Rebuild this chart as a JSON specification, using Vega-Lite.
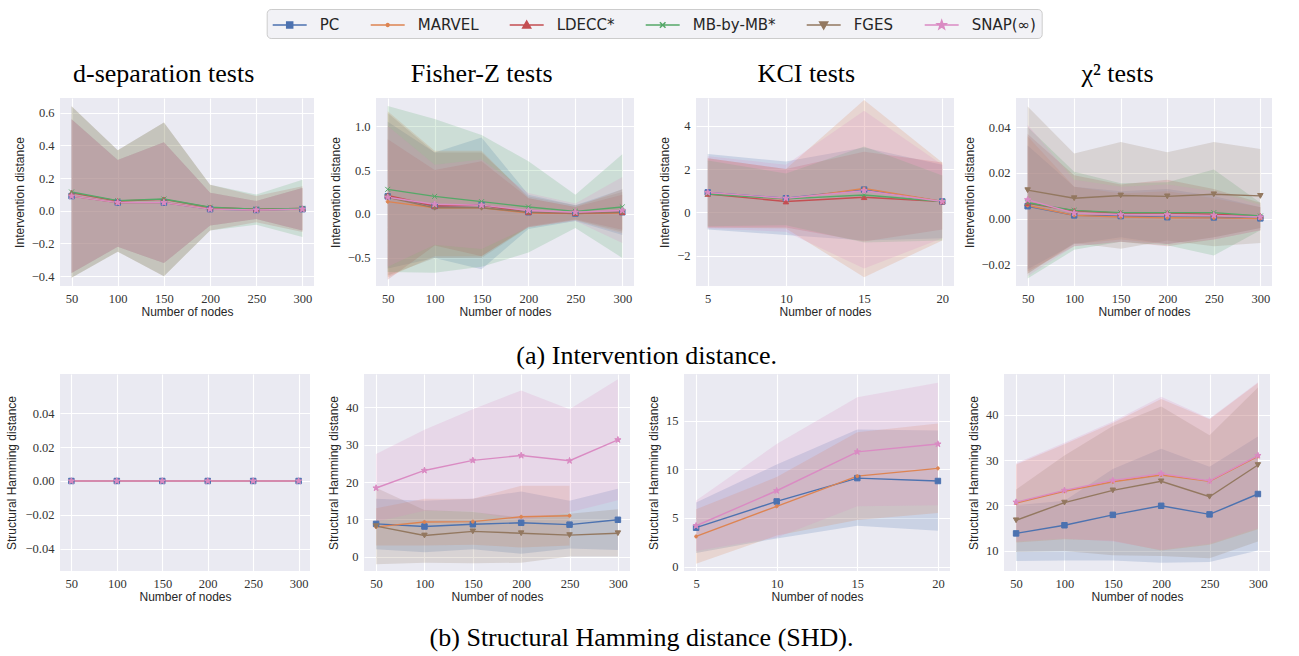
{
  "$schema": "https://vega.github.io/schema/vega-lite/v6.json",
  "padding": {"left": 5, "top": 8, "right": 5, "bottom": 5},
  "background": "white",
  "datasets": {
    "d": [
      {"p":"a1","m":"PC","n":50,"y":0.09,"lo":-0.38,"hi":0.56},{"p":"a1","m":"PC","n":100,"y":0.05,"lo":-0.22,"hi":0.31},{"p":"a1","m":"PC","n":150,"y":0.05,"lo":-0.32,"hi":0.42},{"p":"a1","m":"PC","n":200,"y":0.01,"lo":-0.09,"hi":0.11},{"p":"a1","m":"PC","n":250,"y":0.005,"lo":-0.05,"hi":0.06},{"p":"a1","m":"PC","n":300,"y":0.01,"lo":-0.12,"hi":0.14},
      {"p":"a1","m":"MARVEL","n":50,"y":0.09,"lo":-0.38,"hi":0.56},{"p":"a1","m":"MARVEL","n":100,"y":0.05,"lo":-0.22,"hi":0.31},{"p":"a1","m":"MARVEL","n":150,"y":0.05,"lo":-0.32,"hi":0.42},{"p":"a1","m":"MARVEL","n":200,"y":0.012,"lo":-0.09,"hi":0.11},{"p":"a1","m":"MARVEL","n":250,"y":0.006,"lo":-0.05,"hi":0.06},{"p":"a1","m":"MARVEL","n":300,"y":0.01,"lo":-0.12,"hi":0.14},
      {"p":"a1","m":"LDECC*","n":50,"y":0.11,"lo":-0.41,"hi":0.64},{"p":"a1","m":"LDECC*","n":100,"y":0.06,"lo":-0.25,"hi":0.37},{"p":"a1","m":"LDECC*","n":150,"y":0.07,"lo":-0.40,"hi":0.54},{"p":"a1","m":"LDECC*","n":200,"y":0.02,"lo":-0.12,"hi":0.16},{"p":"a1","m":"LDECC*","n":250,"y":0.01,"lo":-0.07,"hi":0.09},{"p":"a1","m":"LDECC*","n":300,"y":0.015,"lo":-0.13,"hi":0.15},
      {"p":"a1","m":"MB-by-MB*","n":50,"y":0.115,"lo":-0.41,"hi":0.64},{"p":"a1","m":"MB-by-MB*","n":100,"y":0.062,"lo":-0.25,"hi":0.37},{"p":"a1","m":"MB-by-MB*","n":150,"y":0.072,"lo":-0.40,"hi":0.54},{"p":"a1","m":"MB-by-MB*","n":200,"y":0.022,"lo":-0.12,"hi":0.16},{"p":"a1","m":"MB-by-MB*","n":250,"y":0.01,"lo":-0.085,"hi":0.10},{"p":"a1","m":"MB-by-MB*","n":300,"y":0.015,"lo":-0.16,"hi":0.19},
      {"p":"a1","m":"SNAP(∞)","n":50,"y":0.09,"lo":-0.38,"hi":0.56},{"p":"a1","m":"SNAP(∞)","n":100,"y":0.05,"lo":-0.22,"hi":0.31},{"p":"a1","m":"SNAP(∞)","n":150,"y":0.05,"lo":-0.32,"hi":0.42},{"p":"a1","m":"SNAP(∞)","n":200,"y":0.01,"lo":-0.09,"hi":0.11},{"p":"a1","m":"SNAP(∞)","n":250,"y":0.005,"lo":-0.05,"hi":0.06},{"p":"a1","m":"SNAP(∞)","n":300,"y":0.01,"lo":-0.12,"hi":0.14},

      {"p":"a2","m":"PC","n":50,"y":0.20,"lo":-0.62,"hi":1.05},{"p":"a2","m":"PC","n":100,"y":0.09,"lo":-0.50,"hi":0.70},{"p":"a2","m":"PC","n":150,"y":0.10,"lo":-0.63,"hi":0.87},{"p":"a2","m":"PC","n":200,"y":0.02,"lo":-0.17,"hi":0.22},{"p":"a2","m":"PC","n":250,"y":0.005,"lo":-0.08,"hi":0.10},{"p":"a2","m":"PC","n":300,"y":0.02,"lo":-0.24,"hi":0.28},
      {"p":"a2","m":"MARVEL","n":50,"y":0.14,"lo":-0.72,"hi":1.17},{"p":"a2","m":"MARVEL","n":100,"y":0.07,"lo":-0.48,"hi":0.72},{"p":"a2","m":"MARVEL","n":150,"y":0.07,"lo":-0.48,"hi":0.72},{"p":"a2","m":"MARVEL","n":200,"y":0.01,"lo":-0.15,"hi":0.18},{"p":"a2","m":"MARVEL","n":250,"y":0.005,"lo":-0.07,"hi":0.08},{"p":"a2","m":"MARVEL","n":300,"y":0.01,"lo":-0.22,"hi":0.28},
      {"p":"a2","m":"LDECC*","n":50,"y":0.21,"lo":-0.75,"hi":0.85},{"p":"a2","m":"LDECC*","n":100,"y":0.09,"lo":-0.36,"hi":0.50},{"p":"a2","m":"LDECC*","n":150,"y":0.10,"lo":-0.48,"hi":0.60},{"p":"a2","m":"LDECC*","n":200,"y":0.02,"lo":-0.14,"hi":0.18},{"p":"a2","m":"LDECC*","n":250,"y":0.01,"lo":-0.06,"hi":0.08},{"p":"a2","m":"LDECC*","n":300,"y":0.02,"lo":-0.18,"hi":0.22},
      {"p":"a2","m":"MB-by-MB*","n":50,"y":0.28,"lo":-0.66,"hi":1.23},{"p":"a2","m":"MB-by-MB*","n":100,"y":0.20,"lo":-0.67,"hi":1.08},{"p":"a2","m":"MB-by-MB*","n":150,"y":0.14,"lo":-0.60,"hi":0.90},{"p":"a2","m":"MB-by-MB*","n":200,"y":0.08,"lo":-0.44,"hi":0.60},{"p":"a2","m":"MB-by-MB*","n":250,"y":0.03,"lo":-0.16,"hi":0.22},{"p":"a2","m":"MB-by-MB*","n":300,"y":0.08,"lo":-0.50,"hi":0.68},
      {"p":"a2","m":"FGES","n":50,"y":0.19,"lo":-0.70,"hi":1.15},{"p":"a2","m":"FGES","n":100,"y":0.07,"lo":-0.50,"hi":0.70},{"p":"a2","m":"FGES","n":150,"y":0.07,"lo":-0.50,"hi":0.70},{"p":"a2","m":"FGES","n":200,"y":0.02,"lo":-0.15,"hi":0.20},{"p":"a2","m":"FGES","n":250,"y":0.01,"lo":-0.07,"hi":0.10},{"p":"a2","m":"FGES","n":300,"y":0.02,"lo":-0.20,"hi":0.25},
      {"p":"a2","m":"SNAP(∞)","n":50,"y":0.19,"lo":-0.60,"hi":1.00},{"p":"a2","m":"SNAP(∞)","n":100,"y":0.11,"lo":-0.35,"hi":0.56},{"p":"a2","m":"SNAP(∞)","n":150,"y":0.10,"lo":-0.40,"hi":0.62},{"p":"a2","m":"SNAP(∞)","n":200,"y":0.04,"lo":-0.15,"hi":0.24},{"p":"a2","m":"SNAP(∞)","n":250,"y":0.02,"lo":-0.08,"hi":0.12},{"p":"a2","m":"SNAP(∞)","n":300,"y":0.04,"lo":-0.33,"hi":0.42},

      {"p":"a3","m":"PC","n":5,"y":0.92,"lo":-0.8,"hi":2.7},{"p":"a3","m":"PC","n":10,"y":0.65,"lo":-1.05,"hi":2.35},{"p":"a3","m":"PC","n":15,"y":1.05,"lo":-1.3,"hi":3.0},{"p":"a3","m":"PC","n":20,"y":0.5,"lo":-1.2,"hi":2.2},
      {"p":"a3","m":"MARVEL","n":5,"y":0.9,"lo":-0.7,"hi":2.5},{"p":"a3","m":"MARVEL","n":10,"y":0.6,"lo":-0.75,"hi":2.0},{"p":"a3","m":"MARVEL","n":15,"y":1.1,"lo":-3.0,"hi":5.2},{"p":"a3","m":"MARVEL","n":20,"y":0.5,"lo":-1.3,"hi":2.3},
      {"p":"a3","m":"LDECC*","n":5,"y":0.85,"lo":-0.7,"hi":2.5},{"p":"a3","m":"LDECC*","n":10,"y":0.5,"lo":-0.7,"hi":2.0},{"p":"a3","m":"LDECC*","n":15,"y":0.7,"lo":-1.35,"hi":2.8},{"p":"a3","m":"LDECC*","n":20,"y":0.5,"lo":-0.8,"hi":2.3},
      {"p":"a3","m":"MB-by-MB*","n":5,"y":0.85,"lo":-0.65,"hi":2.4},{"p":"a3","m":"MB-by-MB*","n":10,"y":0.62,"lo":-0.6,"hi":1.8},{"p":"a3","m":"MB-by-MB*","n":15,"y":0.8,"lo":-1.4,"hi":3.05},{"p":"a3","m":"MB-by-MB*","n":20,"y":0.5,"lo":-1.3,"hi":1.7},
      {"p":"a3","m":"SNAP(∞)","n":5,"y":0.92,"lo":-0.75,"hi":2.6},{"p":"a3","m":"SNAP(∞)","n":10,"y":0.65,"lo":-0.9,"hi":2.2},{"p":"a3","m":"SNAP(∞)","n":15,"y":1.0,"lo":-2.6,"hi":4.7},{"p":"a3","m":"SNAP(∞)","n":20,"y":0.5,"lo":-1.2,"hi":2.2},

      {"p":"a4","m":"PC","n":50,"y":0.0055,"lo":-0.022,"hi":0.032},{"p":"a4","m":"PC","n":100,"y":0.0015,"lo":-0.011,"hi":0.014},{"p":"a4","m":"PC","n":150,"y":0.0012,"lo":-0.008,"hi":0.012},{"p":"a4","m":"PC","n":200,"y":0.0007,"lo":-0.011,"hi":0.013},{"p":"a4","m":"PC","n":250,"y":0.0006,"lo":-0.008,"hi":0.010},{"p":"a4","m":"PC","n":300,"y":0.0002,"lo":-0.004,"hi":0.005},
      {"p":"a4","m":"MARVEL","n":50,"y":0.0058,"lo":-0.024,"hi":0.036},{"p":"a4","m":"MARVEL","n":100,"y":0.0015,"lo":-0.011,"hi":0.014},{"p":"a4","m":"MARVEL","n":150,"y":0.0008,"lo":-0.009,"hi":0.011},{"p":"a4","m":"MARVEL","n":200,"y":0.0005,"lo":-0.011,"hi":0.012},{"p":"a4","m":"MARVEL","n":250,"y":0.0004,"lo":-0.008,"hi":0.009},{"p":"a4","m":"MARVEL","n":300,"y":0.0001,"lo":-0.004,"hi":0.005},
      {"p":"a4","m":"LDECC*","n":50,"y":0.0068,"lo":-0.023,"hi":0.037},{"p":"a4","m":"LDECC*","n":100,"y":0.0035,"lo":-0.012,"hi":0.019},{"p":"a4","m":"LDECC*","n":150,"y":0.0025,"lo":-0.010,"hi":0.015},{"p":"a4","m":"LDECC*","n":200,"y":0.0025,"lo":-0.012,"hi":0.017},{"p":"a4","m":"LDECC*","n":250,"y":0.002,"lo":-0.009,"hi":0.013},{"p":"a4","m":"LDECC*","n":300,"y":0.0013,"lo":-0.005,"hi":0.007},
      {"p":"a4","m":"MB-by-MB*","n":50,"y":0.007,"lo":-0.026,"hi":0.040},{"p":"a4","m":"MB-by-MB*","n":100,"y":0.0037,"lo":-0.0135,"hi":0.0205},{"p":"a4","m":"MB-by-MB*","n":150,"y":0.0027,"lo":-0.010,"hi":0.0155},{"p":"a4","m":"MB-by-MB*","n":200,"y":0.0027,"lo":-0.0115,"hi":0.016},{"p":"a4","m":"MB-by-MB*","n":250,"y":0.0027,"lo":-0.016,"hi":0.0215},{"p":"a4","m":"MB-by-MB*","n":300,"y":0.0012,"lo":-0.005,"hi":0.007},
      {"p":"a4","m":"FGES","n":50,"y":0.0125,"lo":-0.024,"hi":0.049},{"p":"a4","m":"FGES","n":100,"y":0.009,"lo":-0.0105,"hi":0.0285},{"p":"a4","m":"FGES","n":150,"y":0.0102,"lo":-0.013,"hi":0.0335},{"p":"a4","m":"FGES","n":200,"y":0.0098,"lo":-0.0095,"hi":0.029},{"p":"a4","m":"FGES","n":250,"y":0.0107,"lo":-0.012,"hi":0.0335},{"p":"a4","m":"FGES","n":300,"y":0.010,"lo":-0.0105,"hi":0.0305},
      {"p":"a4","m":"SNAP(∞)","n":50,"y":0.0083,"lo":-0.025,"hi":0.041},{"p":"a4","m":"SNAP(∞)","n":100,"y":0.0025,"lo":-0.012,"hi":0.017},{"p":"a4","m":"SNAP(∞)","n":150,"y":0.0018,"lo":-0.010,"hi":0.014},{"p":"a4","m":"SNAP(∞)","n":200,"y":0.0018,"lo":-0.011,"hi":0.015},{"p":"a4","m":"SNAP(∞)","n":250,"y":0.0015,"lo":-0.009,"hi":0.012},{"p":"a4","m":"SNAP(∞)","n":300,"y":0.0008,"lo":-0.005,"hi":0.006},

      {"p":"b1","m":"PC","n":50,"y":0,"lo":0,"hi":0},{"p":"b1","m":"PC","n":100,"y":0,"lo":0,"hi":0},{"p":"b1","m":"PC","n":150,"y":0,"lo":0,"hi":0},{"p":"b1","m":"PC","n":200,"y":0,"lo":0,"hi":0},{"p":"b1","m":"PC","n":250,"y":0,"lo":0,"hi":0},{"p":"b1","m":"PC","n":300,"y":0,"lo":0,"hi":0},
      {"p":"b1","m":"MARVEL","n":50,"y":0,"lo":0,"hi":0},{"p":"b1","m":"MARVEL","n":100,"y":0,"lo":0,"hi":0},{"p":"b1","m":"MARVEL","n":150,"y":0,"lo":0,"hi":0},{"p":"b1","m":"MARVEL","n":200,"y":0,"lo":0,"hi":0},{"p":"b1","m":"MARVEL","n":250,"y":0,"lo":0,"hi":0},{"p":"b1","m":"MARVEL","n":300,"y":0,"lo":0,"hi":0},
      {"p":"b1","m":"SNAP(∞)","n":50,"y":0,"lo":0,"hi":0},{"p":"b1","m":"SNAP(∞)","n":100,"y":0,"lo":0,"hi":0},{"p":"b1","m":"SNAP(∞)","n":150,"y":0,"lo":0,"hi":0},{"p":"b1","m":"SNAP(∞)","n":200,"y":0,"lo":0,"hi":0},{"p":"b1","m":"SNAP(∞)","n":250,"y":0,"lo":0,"hi":0},{"p":"b1","m":"SNAP(∞)","n":300,"y":0,"lo":0,"hi":0},

      {"p":"b2","m":"PC","n":50,"y":8.8,"lo":2.0,"hi":15.5},{"p":"b2","m":"PC","n":100,"y":8.1,"lo":1.2,"hi":15.0},{"p":"b2","m":"PC","n":150,"y":8.7,"lo":2.0,"hi":15.5},{"p":"b2","m":"PC","n":200,"y":9.1,"lo":0.8,"hi":17.5},{"p":"b2","m":"PC","n":250,"y":8.6,"lo":2.2,"hi":15.0},{"p":"b2","m":"PC","n":300,"y":9.9,"lo":1.8,"hi":18.2},
      {"p":"b2","m":"MARVEL","n":50,"y":8.0,"lo":3.0,"hi":13.0},{"p":"b2","m":"MARVEL","n":100,"y":9.3,"lo":3.0,"hi":15.5},{"p":"b2","m":"MARVEL","n":150,"y":9.4,"lo":3.2,"hi":15.5},{"p":"b2","m":"MARVEL","n":200,"y":10.7,"lo":2.5,"hi":19.0},{"p":"b2","m":"MARVEL","n":250,"y":11.0,"lo":3.0,"hi":19.0},
      {"p":"b2","m":"FGES","n":50,"y":8.2,"lo":-2.0,"hi":18.5},{"p":"b2","m":"FGES","n":100,"y":5.7,"lo":-1.6,"hi":12.5},{"p":"b2","m":"FGES","n":150,"y":6.8,"lo":-1.7,"hi":12.0},{"p":"b2","m":"FGES","n":200,"y":6.3,"lo":-1.6,"hi":10.5},{"p":"b2","m":"FGES","n":250,"y":5.8,"lo":0.1,"hi":11.5},{"p":"b2","m":"FGES","n":300,"y":6.3,"lo":0.1,"hi":12.7},
      {"p":"b2","m":"SNAP(∞)","n":50,"y":18.4,"lo":9.4,"hi":27.5},{"p":"b2","m":"SNAP(∞)","n":100,"y":23.1,"lo":12.3,"hi":34.0},{"p":"b2","m":"SNAP(∞)","n":150,"y":25.8,"lo":12.1,"hi":39.5},{"p":"b2","m":"SNAP(∞)","n":200,"y":27.1,"lo":9.7,"hi":44.5},{"p":"b2","m":"SNAP(∞)","n":250,"y":25.7,"lo":11.9,"hi":39.5},{"p":"b2","m":"SNAP(∞)","n":300,"y":31.3,"lo":15.1,"hi":47.5},

      {"p":"b3","m":"PC","n":5,"y":4.0,"lo":1.4,"hi":6.6},{"p":"b3","m":"PC","n":10,"y":6.7,"lo":2.9,"hi":10.5},{"p":"b3","m":"PC","n":15,"y":9.1,"lo":4.2,"hi":14.1},{"p":"b3","m":"PC","n":20,"y":8.8,"lo":3.7,"hi":14.0},
      {"p":"b3","m":"MARVEL","n":5,"y":3.1,"lo":0.3,"hi":5.9},{"p":"b3","m":"MARVEL","n":10,"y":6.2,"lo":3.2,"hi":9.2},{"p":"b3","m":"MARVEL","n":15,"y":9.3,"lo":4.8,"hi":13.8},{"p":"b3","m":"MARVEL","n":20,"y":10.1,"lo":5.5,"hi":14.7},
      {"p":"b3","m":"SNAP(∞)","n":5,"y":4.2,"lo":1.6,"hi":6.8},{"p":"b3","m":"SNAP(∞)","n":10,"y":7.8,"lo":3.0,"hi":12.6},{"p":"b3","m":"SNAP(∞)","n":15,"y":11.8,"lo":6.2,"hi":17.4},{"p":"b3","m":"SNAP(∞)","n":20,"y":12.6,"lo":6.3,"hi":18.9},

      {"p":"b4","m":"PC","n":50,"y":13.8,"lo":7.7,"hi":20.0},{"p":"b4","m":"PC","n":100,"y":15.6,"lo":7.8,"hi":21.0},{"p":"b4","m":"PC","n":150,"y":17.9,"lo":7.8,"hi":28.0},{"p":"b4","m":"PC","n":200,"y":19.9,"lo":7.3,"hi":32.5},{"p":"b4","m":"PC","n":250,"y":18.0,"lo":7.5,"hi":28.5},{"p":"b4","m":"PC","n":300,"y":22.5,"lo":10.0,"hi":35.2},
      {"p":"b4","m":"MARVEL","n":50,"y":20.5,"lo":11.8,"hi":29.0},{"p":"b4","m":"MARVEL","n":100,"y":23.1,"lo":12.5,"hi":33.5},{"p":"b4","m":"MARVEL","n":150,"y":25.2,"lo":12.2,"hi":38.2},{"p":"b4","m":"MARVEL","n":200,"y":26.7,"lo":10.0,"hi":43.5},{"p":"b4","m":"MARVEL","n":250,"y":25.3,"lo":11.3,"hi":39.0},{"p":"b4","m":"MARVEL","n":300,"y":30.8,"lo":14.7,"hi":47.0},
      {"p":"b4","m":"FGES","n":50,"y":16.7,"lo":9.7,"hi":23.5},{"p":"b4","m":"FGES","n":100,"y":20.6,"lo":9.9,"hi":31.0},{"p":"b4","m":"FGES","n":150,"y":23.3,"lo":9.0,"hi":37.5},{"p":"b4","m":"FGES","n":200,"y":25.3,"lo":8.8,"hi":41.8},{"p":"b4","m":"FGES","n":250,"y":21.9,"lo":8.3,"hi":35.5},{"p":"b4","m":"FGES","n":300,"y":28.9,"lo":12.0,"hi":46.0},
      {"p":"b4","m":"SNAP(∞)","n":50,"y":20.7,"lo":12.0,"hi":29.3},{"p":"b4","m":"SNAP(∞)","n":100,"y":23.3,"lo":12.7,"hi":33.8},{"p":"b4","m":"SNAP(∞)","n":150,"y":25.5,"lo":12.0,"hi":38.5},{"p":"b4","m":"SNAP(∞)","n":200,"y":27.0,"lo":10.2,"hi":44.0},{"p":"b4","m":"SNAP(∞)","n":250,"y":25.4,"lo":11.5,"hi":39.2},{"p":"b4","m":"SNAP(∞)","n":300,"y":31.0,"lo":15.0,"hi":47.2}
    ]
  },
  "data": {"name": "d"},
  "spacing": 5,
  "vconcat": [
    {
      "spacing": 62,
      "bounds": "flush",
      "title": {"text": "(a) Intervention distance.", "orient": "bottom", "anchor": "middle", "frame": "bounds", "offset": 25, "dx": 4},
      "hconcat": [
        {
          "width": 254, "height": 188,
          "title": {"text": "d-separation tests", "frame": "bounds", "offset": 11},
          "transform": [{"filter": "datum.p === 'a1'"}],
          "encoding": {
            "x": {"field": "n", "type": "quantitative", "title": "Number of nodes", "scale": {"domain": [37.5, 312.5], "nice": false, "zero": false}, "axis": {"values": [50, 100, 150, 200, 250, 300]}},
            "color": {"field": "m", "type": "nominal",
              "scale": {"domain": ["PC", "MARVEL", "LDECC*", "MB-by-MB*", "FGES", "SNAP(∞)"], "range": ["#4C72B0", "#DD8452", "#C44E52", "#55A868", "#937860", "#DA8BC3"]},
              "legend": {"orient": "none", "legendX": 206.7, "legendY": -89, "direction": "horizontal", "columns": 6, "title": null,
                "encode": {"symbols": {"update": {
                  "shape": {"signal": "datum.value === 'PC' ? 'M-1.7,0H1.7M-0.3,-0.3H0.3V0.3H-0.3Z' : datum.value === 'MARVEL' ? 'M-1.7,0H1.7M-0.15,0A0.15,0.15,0,1,1,0.15,0A0.15,0.15,0,1,1,-0.15,0Z' : datum.value === 'LDECC*' ? 'M-1.7,0H1.7M0,-0.4L0.4,0.3L-0.4,0.3Z' : datum.value === 'MB-by-MB*' ? 'M-1.7,0H1.7M-0.28,-0.28L0.28,0.28M-0.28,0.28L0.28,-0.28' : datum.value === 'FGES' ? 'M-1.7,0H1.7M0,0.4L0.4,-0.3L-0.4,-0.3Z' : 'M-1.7,0H1.7M0,-0.45L0.106,-0.146L0.428,-0.139L0.171,0.056L0.265,0.364L0,0.18L-0.265,0.364L-0.171,0.056L-0.428,-0.139L-0.106,-0.146Z'"},
                  "fill": {"scale": "color", "field": "value"},
                  "stroke": {"scale": "color", "field": "value"},
                  "strokeWidth": {"value": 1.5},
                  "opacity": {"value": 1},
                  "fillOpacity": {"value": 1},
                  "size": {"value": 400}
                }}}
              }
            }
          },
          "layer": [
            {"mark": {"type": "area", "opacity": 0.2, "clip": true}, "encoding": {"y": {"field": "lo", "type": "quantitative", "title": "Intervention distance", "scale": {"domain": [-0.46, 0.69], "nice": false, "zero": false}, "axis": {"values": [-0.4, -0.2, 0, 0.2, 0.4, 0.6], "format": ".1f", "tickCount": 20}}, "y2": {"field": "hi"}}},
            {"mark": {"type": "line", "strokeWidth": 1.4, "clip": true}, "encoding": {"y": {"field": "y", "type": "quantitative", "title": "Intervention distance"}}},
            {"mark": {"type": "point", "filled": true, "size": 30, "opacity": 1, "strokeWidth": 1, "clip": true}, "encoding": {"y": {"field": "y", "type": "quantitative", "title": "Intervention distance"},
              "shape": {"field": "m", "type": "nominal", "legend": null, "scale": {"domain": ["SNAP(∞)", "FGES", "MB-by-MB*", "LDECC*", "MARVEL", "PC"], "range": ["M0,-1.2L0.282,-0.389L1.141,-0.371L0.456,0.149L0.706,0.971L0,0.48L-0.706,0.971L-0.456,0.149L-1.141,-0.371L-0.282,-0.389Z", "triangle-down", "M-0.9,-0.9L0.9,0.9M-0.9,0.9L0.9,-0.9", "triangle-up", "M-0.55,0A0.55,0.55,0,1,1,0.55,0A0.55,0.55,0,1,1,-0.55,0Z", "square"]}},
              "stroke": {"field": "m", "type": "nominal", "legend": null, "scale": {"domain": ["MARVEL", "PC", "LDECC*", "MB-by-MB*", "FGES", "SNAP(∞)"], "range": ["#DD8452", "#4C72B0", "#C44E52", "#55A868", "#937860", "#DA8BC3"]}}}}
          ]
        },
        {
          "width": 258, "height": 188,
          "title": {"text": "Fisher-Z tests", "frame": "bounds", "offset": 11},
          "transform": [{"filter": "datum.p === 'a2'"}],
          "encoding": {
            "x": {"field": "n", "type": "quantitative", "title": "Number of nodes", "scale": {"domain": [37.5, 312.5], "nice": false, "zero": false}, "axis": {"values": [50, 100, 150, 200, 250, 300]}},
            "color": {"field": "m", "type": "nominal"}
          },
          "layer": [
            {"mark": {"type": "area", "opacity": 0.2, "clip": true}, "encoding": {"y": {"field": "lo", "type": "quantitative", "title": "Intervention distance", "scale": {"domain": [-0.82, 1.32], "nice": false, "zero": false}, "axis": {"values": [-0.5, 0, 0.5, 1.0], "format": ".1f", "tickCount": 20}}, "y2": {"field": "hi"}}},
            {"mark": {"type": "line", "strokeWidth": 1.4, "clip": true}, "encoding": {"y": {"field": "y", "type": "quantitative", "title": "Intervention distance"}}},
            {"mark": {"type": "point", "filled": true, "size": 30, "opacity": 1, "strokeWidth": 1, "clip": true}, "encoding": {"y": {"field": "y", "type": "quantitative", "title": "Intervention distance"}, "shape": {"field": "m", "type": "nominal", "legend": null}, "stroke": {"field": "m", "type": "nominal", "legend": null}}}
          ]
        },
        {
          "width": 258, "height": 188,
          "title": {"text": "KCI tests", "frame": "bounds", "offset": 11},
          "transform": [{"filter": "datum.p === 'a3'"}],
          "encoding": {
            "x": {"field": "n", "type": "quantitative", "title": "Number of nodes", "scale": {"domain": [4.25, 20.75], "nice": false, "zero": false}, "axis": {"values": [5, 10, 15, 20]}},
            "color": {"field": "m", "type": "nominal"}
          },
          "layer": [
            {"mark": {"type": "area", "opacity": 0.2, "clip": true}, "encoding": {"y": {"field": "lo", "type": "quantitative", "title": "Intervention distance", "scale": {"domain": [-3.41, 5.29], "nice": false, "zero": false}, "axis": {"values": [-2, 0, 2, 4], "format": "d", "tickCount": 20}}, "y2": {"field": "hi"}}},
            {"mark": {"type": "line", "strokeWidth": 1.4, "clip": true}, "encoding": {"y": {"field": "y", "type": "quantitative", "title": "Intervention distance"}}},
            {"mark": {"type": "point", "filled": true, "size": 30, "opacity": 1, "strokeWidth": 1, "clip": true}, "encoding": {"y": {"field": "y", "type": "quantitative", "title": "Intervention distance"}, "shape": {"field": "m", "type": "nominal", "legend": null}, "stroke": {"field": "m", "type": "nominal", "legend": null}}}
          ]
        },
        {
          "width": 256, "height": 188,
          "title": {"text": "χ² tests", "frame": "bounds", "offset": 11},
          "transform": [{"filter": "datum.p === 'a4'"}],
          "encoding": {
            "x": {"field": "n", "type": "quantitative", "title": "Number of nodes", "scale": {"domain": [37.5, 312.5], "nice": false, "zero": false}, "axis": {"values": [50, 100, 150, 200, 250, 300]}},
            "color": {"field": "m", "type": "nominal"}
          },
          "layer": [
            {"mark": {"type": "area", "opacity": 0.2, "clip": true}, "encoding": {"y": {"field": "lo", "type": "quantitative", "title": "Intervention distance", "scale": {"domain": [-0.0293, 0.0527], "nice": false, "zero": false}, "axis": {"values": [-0.02, 0, 0.02, 0.04], "format": ".2f", "tickCount": 20}}, "y2": {"field": "hi"}}},
            {"mark": {"type": "line", "strokeWidth": 1.4, "clip": true}, "encoding": {"y": {"field": "y", "type": "quantitative", "title": "Intervention distance"}}},
            {"mark": {"type": "point", "filled": true, "size": 30, "opacity": 1, "strokeWidth": 1, "clip": true}, "encoding": {"y": {"field": "y", "type": "quantitative", "title": "Intervention distance"}, "shape": {"field": "m", "type": "nominal", "legend": null}, "stroke": {"field": "m", "type": "nominal", "legend": null}}}
          ]
        }
      ]
    },
    {
      "spacing": 54,
      "bounds": "flush",
      "title": {"text": "(b) Structural Hamming distance (SHD).", "orient": "bottom", "anchor": "middle", "frame": "bounds", "offset": 22, "dx": 4},
      "hconcat": [
        {
          "width": 250, "height": 197,
          "transform": [{"filter": "datum.p === 'b1'"}],
          "encoding": {
            "x": {"field": "n", "type": "quantitative", "title": "Number of nodes", "scale": {"domain": [37.5, 312.5], "nice": false, "zero": false}, "axis": {"values": [50, 100, 150, 200, 250, 300]}},
            "color": {"field": "m", "type": "nominal"}
          },
          "layer": [
            {"mark": {"type": "area", "opacity": 0.2, "clip": true}, "encoding": {"y": {"field": "lo", "type": "quantitative", "title": "Structural Hamming distance", "scale": {"domain": [-0.053, 0.063], "nice": false, "zero": false}, "axis": {"values": [-0.04, -0.02, 0, 0.02, 0.04], "format": ".2f", "tickCount": 20, "titlePadding": 7}}, "y2": {"field": "hi"}}},
            {"mark": {"type": "line", "strokeWidth": 1.4, "clip": true}, "encoding": {"y": {"field": "y", "type": "quantitative", "title": "Structural Hamming distance"}}},
            {"mark": {"type": "point", "filled": true, "size": 30, "opacity": 1, "strokeWidth": 1, "clip": true}, "encoding": {"y": {"field": "y", "type": "quantitative", "title": "Structural Hamming distance"}, "shape": {"field": "m", "type": "nominal", "legend": null}, "stroke": {"field": "m", "type": "nominal", "legend": null}}}
          ]
        },
        {
          "width": 266, "height": 197,
          "transform": [{"filter": "datum.p === 'b2'"}],
          "encoding": {
            "x": {"field": "n", "type": "quantitative", "title": "Number of nodes", "scale": {"domain": [37.5, 312.5], "nice": false, "zero": false}, "axis": {"values": [50, 100, 150, 200, 250, 300]}},
            "color": {"field": "m", "type": "nominal"}
          },
          "layer": [
            {"mark": {"type": "area", "opacity": 0.2, "clip": true}, "encoding": {"y": {"field": "lo", "type": "quantitative", "title": "Structural Hamming distance", "scale": {"domain": [-3.8, 48.9], "nice": false, "zero": false}, "axis": {"values": [0, 10, 20, 30, 40], "format": "d", "tickCount": 20}}, "y2": {"field": "hi"}}},
            {"mark": {"type": "line", "strokeWidth": 1.4, "clip": true}, "encoding": {"y": {"field": "y", "type": "quantitative", "title": "Structural Hamming distance"}}},
            {"mark": {"type": "point", "filled": true, "size": 30, "opacity": 1, "strokeWidth": 1, "clip": true}, "encoding": {"y": {"field": "y", "type": "quantitative", "title": "Structural Hamming distance"}, "shape": {"field": "m", "type": "nominal", "legend": null}, "stroke": {"field": "m", "type": "nominal", "legend": null}}}
          ]
        },
        {
          "width": 266, "height": 197,
          "transform": [{"filter": "datum.p === 'b3'"}],
          "encoding": {
            "x": {"field": "n", "type": "quantitative", "title": "Number of nodes", "scale": {"domain": [4.25, 20.75], "nice": false, "zero": false}, "axis": {"values": [5, 10, 15, 20]}},
            "color": {"field": "m", "type": "nominal"}
          },
          "layer": [
            {"mark": {"type": "area", "opacity": 0.2, "clip": true}, "encoding": {"y": {"field": "lo", "type": "quantitative", "title": "Structural Hamming distance", "scale": {"domain": [-0.45, 19.8], "nice": false, "zero": false}, "axis": {"values": [0, 5, 10, 15], "format": "d", "tickCount": 20}}, "y2": {"field": "hi"}}},
            {"mark": {"type": "line", "strokeWidth": 1.4, "clip": true}, "encoding": {"y": {"field": "y", "type": "quantitative", "title": "Structural Hamming distance"}}},
            {"mark": {"type": "point", "filled": true, "size": 30, "opacity": 1, "strokeWidth": 1, "clip": true}, "encoding": {"y": {"field": "y", "type": "quantitative", "title": "Structural Hamming distance"}, "shape": {"field": "m", "type": "nominal", "legend": null}, "stroke": {"field": "m", "type": "nominal", "legend": null}}}
          ]
        },
        {
          "width": 266, "height": 197,
          "transform": [{"filter": "datum.p === 'b4'"}],
          "encoding": {
            "x": {"field": "n", "type": "quantitative", "title": "Number of nodes", "scale": {"domain": [37.5, 312.5], "nice": false, "zero": false}, "axis": {"values": [50, 100, 150, 200, 250, 300]}},
            "color": {"field": "m", "type": "nominal"}
          },
          "layer": [
            {"mark": {"type": "area", "opacity": 0.2, "clip": true}, "encoding": {"y": {"field": "lo", "type": "quantitative", "title": "Structural Hamming distance", "scale": {"domain": [5.5, 49], "nice": false, "zero": false}, "axis": {"values": [10, 20, 30, 40], "format": "d", "tickCount": 20}}, "y2": {"field": "hi"}}},
            {"mark": {"type": "line", "strokeWidth": 1.4, "clip": true}, "encoding": {"y": {"field": "y", "type": "quantitative", "title": "Structural Hamming distance"}}},
            {"mark": {"type": "point", "filled": true, "size": 30, "opacity": 1, "strokeWidth": 1, "clip": true}, "encoding": {"y": {"field": "y", "type": "quantitative", "title": "Structural Hamming distance"}, "shape": {"field": "m", "type": "nominal", "legend": null}, "stroke": {"field": "m", "type": "nominal", "legend": null}}}
          ]
        }
      ]
    }
  ],
  "config": {
    "view": {"fill": "#EAEAF2", "stroke": null},
    "axis": {"domain": false, "ticks": false, "gridColor": "#FFFFFF", "gridWidth": 1.1, "labelFont": "Liberation Serif", "labelFontSize": 12.5, "labelColor": "#333333", "titleFont": "Liberation Sans", "titleFontSize": 12, "titleFontWeight": "normal", "titleColor": "#262626", "labelOverlap": false, "labelFlush": false, "tickCount": 20},
    "axisX": {"labelPadding": 6, "titlePadding": 2},
    "axisY": {"labelPadding": 6, "titlePadding": 5},
    "title": {"font": "Liberation Serif", "fontSize": 26, "fontWeight": "normal", "color": "#000000"},
    "legend": {"labelFont": "DejaVu Sans", "labelFontSize": 15, "labelColor": "#262626", "symbolSize": 400, "symbolOffset": 7, "labelOffset": 19, "columnPadding": 28, "padding": 5, "fillColor": "#F2F2F6", "strokeColor": "#CCCCCC", "cornerRadius": 4, "symbolStrokeWidth": 1.5}
  }
}
